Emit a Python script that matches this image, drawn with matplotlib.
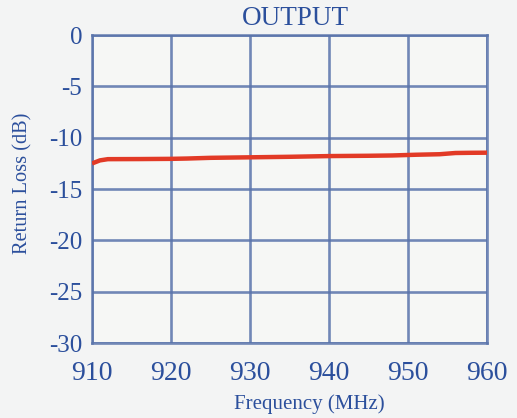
import matplotlib.pyplot as plt

plt.rcParams["font.family"] = ["Liberation Serif", "DejaVu Serif"]
plt.rcParams["axes.unicode_minus"] = False

# values
freq_mhz = [910, 911, 912, 916, 920, 922, 925, 930, 935, 940, 945, 948, 951, 954, 956, 958, 960]
return_loss = [-12.5, -12.2, -12.08, -12.07, -12.05, -12.02, -11.95, -11.9, -11.85,
               -11.78, -11.75, -11.72, -11.65, -11.6, -11.48, -11.46, -11.45]
x_ticks = [910, 920, 930, 940, 950, 960]
y_ticks = [0, -5, -10, -15, -20, -25, -30]

TEXT = "#2b4f9c"
GRID = "#5a74ab"

fig = plt.figure(figsize=(5.17, 4.18), dpi=100)
fig.patch.set_facecolor("#f3f4f4")
ax = fig.add_axes([0.178, 0.179, 0.764, 0.737])
ax.set_facecolor("#f6f7f5")

ax.plot(freq_mhz, return_loss, color="#e23a26", linewidth=3.2, solid_capstyle="butt", zorder=3)

ax.set_xlim(910, 960)
ax.set_ylim(-30, 0)
ax.set_xticks(x_ticks)
ax.set_yticks(y_ticks)
ax.set_yticklabels([str(v) for v in y_ticks])
ax.grid(True, color=GRID, linewidth=1.9, alpha=0.85)
for s in ax.spines.values():
    s.set_color(GRID)
    s.set_linewidth(1.9)
    s.set_alpha(0.85)
ax.tick_params(length=0, colors=TEXT)
ax.tick_params(axis="x", labelsize=20, pad=13)
ax.tick_params(axis="y", labelsize=18, pad=7)

ax.text(0.514, 1.032, "OUTPUT", transform=ax.transAxes, ha="center", va="baseline",
        color=TEXT, fontsize=19.5)
ax.set_xlabel("Frequency (MHz)", color=TEXT, fontsize=15)
ax.set_ylabel("Return Loss (dB)", color=TEXT, fontsize=14.7)
ax.xaxis.set_label_coords(0.55, -0.165)
ax.yaxis.set_label_coords(-0.152, 0.52)

fig.savefig("out.png", dpi=100, facecolor=fig.get_facecolor())
